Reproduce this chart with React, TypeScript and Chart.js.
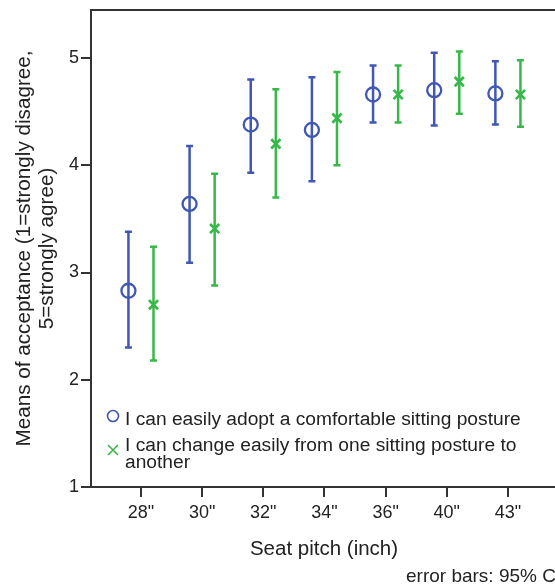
import { useEffect, useRef } from 'react';
import { Chart, registerables } from 'chart.js';

Chart.register(...registerables);

const categories = ['28"', '30"', '32"', '34"', '36"', '40"', '43"'];
const adoptMean = [2.83, 3.64, 4.38, 4.33, 4.66, 4.7, 4.67];
const adoptLow = [2.3, 3.09, 3.93, 3.85, 4.4, 4.37, 4.38];
const adoptHigh = [3.38, 4.18, 4.8, 4.82, 4.93, 5.05, 4.97];
const changeMean = [2.7, 3.41, 4.2, 4.44, 4.66, 4.78, 4.66];
const changeLow = [2.18, 2.88, 3.7, 4.0, 4.4, 4.48, 4.36];
const changeHigh = [3.24, 3.92, 4.71, 4.87, 4.93, 5.06, 4.98];
const yTicks = [1, 2, 3, 4, 5];
const seriesNames = [
  'I can easily adopt a comfortable sitting posture',
  'I can change easily from one sitting posture to',
  'another',
];

const BLUE = '#4058b4';
const GREEN = '#38b848';
const TEXT = '#222222';
const AXIS = '#333333';
const FONT = '"Liberation Sans", Arial, sans-serif';
const OFFSET = 0.205;

const zeroPad = (s: any) => {
  s.paddingTop = 0;
  s.paddingBottom = 0;
  s.paddingLeft = 0;
  s.paddingRight = 0;
};

const overlay = {
  id: 'overlay',
  beforeDatasetsDraw(chart: any) {
    const { ctx } = chart;
    const xs = chart.scales.x;
    const ys = chart.scales.y;
    const sets = [
      { low: adoptLow, high: adoptHigh, off: -OFFSET, color: BLUE },
      { low: changeLow, high: changeHigh, off: OFFSET, color: GREEN },
    ];
    ctx.save();
    sets.forEach((s) => {
      ctx.strokeStyle = s.color;
      ctx.lineWidth = 2.5;
      s.low.forEach((lo, i) => {
        const x = xs.getPixelForValue(i + s.off);
        const y1 = ys.getPixelForValue(lo);
        const y2 = ys.getPixelForValue(s.high[i]);
        ctx.beginPath();
        ctx.moveTo(x, y1);
        ctx.lineTo(x, y2);
        ctx.moveTo(x - 3.5, y1);
        ctx.lineTo(x + 3.5, y1);
        ctx.moveTo(x - 3.5, y2);
        ctx.lineTo(x + 3.5, y2);
        ctx.stroke();
      });
    });
    ctx.restore();
  },
  afterDraw(chart: any) {
    const { ctx, chartArea } = chart;
    ctx.save();
    // top frame line
    ctx.strokeStyle = AXIS;
    ctx.lineWidth = 2;
    ctx.beginPath();
    ctx.moveTo(chartArea.left - 1, chartArea.top);
    ctx.lineTo(chartArea.right, chartArea.top);
    ctx.stroke();

    ctx.fillStyle = TEXT;
    ctx.textBaseline = 'alphabetic';
    // x title
    ctx.font = `20.5px ${FONT}`;
    ctx.textAlign = 'center';
    ctx.fillText('Seat pitch (inch)', 324, 555);

    // y title
    const cy = (chartArea.top + chartArea.bottom) / 2;
    ctx.font = `20.7px ${FONT}`;
    ctx.save();
    ctx.translate(30, cy);
    ctx.rotate(-Math.PI / 2);
    ctx.fillText('Means of acceptance (1=strongly disagree,', 0, 0);
    ctx.fillText('5=strongly agree)', 0, 23);
    ctx.restore();

    // caption
    ctx.font = `19px ${FONT}`;
    ctx.textAlign = 'left';
    ctx.fillText('error bars: 95% CI', 406, 582);

    // legend
    ctx.font = `19.2px ${FONT}`;
    ctx.fillText(seriesNames[0], 125, 425);
    ctx.fillText(seriesNames[1], 125, 451);
    ctx.fillText(seriesNames[2], 125, 468);
    ctx.lineWidth = 1.6;
    ctx.strokeStyle = BLUE;
    ctx.beginPath();
    ctx.arc(113, 416, 5.5, 0, Math.PI * 2);
    ctx.stroke();
    ctx.strokeStyle = GREEN;
    ctx.beginPath();
    ctx.moveTo(108, 445);
    ctx.lineTo(118, 455);
    ctx.moveTo(118, 445);
    ctx.lineTo(108, 455);
    ctx.stroke();
    ctx.restore();
  },
};

export default function App() {
  const ref = useRef<HTMLCanvasElement>(null);
  useEffect(() => {
    if (!ref.current) return;
    const chart = new Chart(ref.current, {
      type: 'scatter',
      data: {
        datasets: [
          {
            label: seriesNames[0],
            data: adoptMean.map((v, i) => ({ x: i - OFFSET, y: v })),
            pointStyle: 'circle',
            pointRadius: 7,
            pointBorderWidth: 2.3,
            pointBorderColor: BLUE,
            pointBackgroundColor: 'rgba(0,0,0,0)',
            pointHoverRadius: 7,
          },
          {
            label: seriesNames[1] + ' ' + seriesNames[2],
            data: changeMean.map((v, i) => ({ x: i + OFFSET, y: v })),
            pointStyle: 'crossRot',
            pointRadius: 6.5,
            pointBorderWidth: 2.7,
            pointBorderColor: GREEN,
            pointBackgroundColor: GREEN,
            pointHoverRadius: 6.5,
          },
        ],
      },
      options: {
        responsive: false,
        animation: false,
        events: [],
        layout: { autoPadding: false, padding: { top: 10, right: 0, left: 0, bottom: 0 } },
        plugins: { legend: { display: false }, tooltip: { enabled: false } },
        scales: {
          x: {
            type: 'linear',
            min: -0.817,
            max: 6.77,
            afterFit: (s: any) => {
              s.height = 100;
              zeroPad(s);
            },
            afterBuildTicks: (s: any) => {
              s.ticks = categories.map((_, i) => ({ value: i }));
            },
            ticks: {
              callback: (v: any) => categories[v as number] ?? '',
              font: { family: FONT, size: 18 },
              color: TEXT,
              padding: 5,
              maxRotation: 0,
              autoSkip: false,
            },
            grid: {
              display: true,
              drawOnChartArea: false,
              drawTicks: true,
              tickLength: 10,
              color: AXIS,
              lineWidth: 2,
            },
            border: { display: true, color: AXIS, width: 2 },
          },
          y: {
            type: 'linear',
            min: 1,
            max: 5.448,
            afterFit: (s: any) => {
              s.width = 91;
              zeroPad(s);
            },
            afterBuildTicks: (s: any) => {
              s.ticks = yTicks.map((v) => ({ value: v }));
            },
            ticks: {
              font: { family: FONT, size: 18 },
              color: TEXT,
              padding: 2,
            },
            grid: {
              display: true,
              drawOnChartArea: false,
              drawTicks: true,
              tickLength: 10,
              color: AXIS,
              lineWidth: 2,
            },
            border: { display: true, color: AXIS, width: 2 },
          },
        },
      },
      plugins: [overlay],
    });
    return () => chart.destroy();
  }, []);
  return (
    <div style={{ position: 'absolute', left: 0, top: 0, width: 555, height: 587, background: '#fff' }}>
      <canvas ref={ref} width={555} height={587} style={{ display: 'block' }} />
    </div>
  );
}
